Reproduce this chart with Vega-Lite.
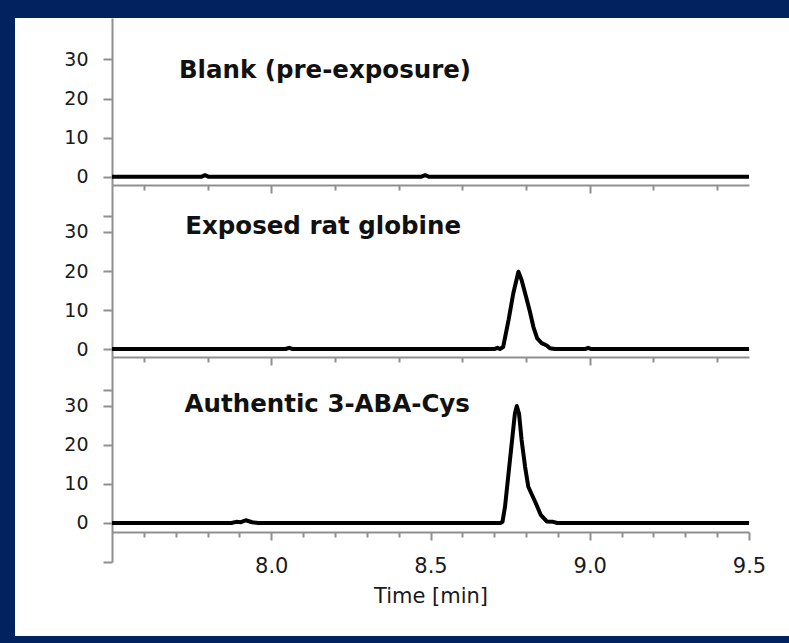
{
  "$schema": "https://vega.github.io/schema/vega-lite/v6.json",
  "padding": 0,
  "autosize": {"type": "pad"},
  "background": "white",
  "spacing": 0,
  "config": {"view": {"stroke": null}},
  "vconcat": [
    {"width": 789, "height": 18, "view": {"fill": "#02215f", "stroke": null}, "data": {"values": []}, "mark": "point"},
    {
      "spacing": 0,
      "hconcat": [
        {"width": 15, "height": 618, "view": {"fill": "#02215f", "stroke": null}, "data": {"values": []}, "mark": "point"},
        {
          "spacing": 0,
          "bounds": "flush",
          "vconcat": [
            {
              "width": 637,
              "height": 167,
              "layer": [
                {
                  "data": {"values": [
                    {"t": 7.5, "v": 0}, {"t": 7.78, "v": 0}, {"t": 7.792, "v": 0.4}, {"t": 7.804, "v": 0},
                    {"t": 8.47, "v": 0}, {"t": 8.483, "v": 0.4}, {"t": 8.496, "v": 0}, {"t": 9.5, "v": 0}
                  ]},
                  "mark": {"type": "line", "color": "#000", "strokeWidth": 4, "strokeJoin": "round"},
                  "encoding": {
                    "x": {"field": "t", "type": "quantitative", "scale": {"domain": [7.5, 9.5], "nice": false, "zero": false},
                      "axis": {"values": [7.6,7.7,7.8,7.9,8.0,8.1,8.2,8.3,8.4,8.5,8.6,8.7,8.8,8.9,9.0,9.1,9.2,9.3,9.4,9.5],
                        "title": null, "labels": false, "grid": false, "domainColor": "#8f8f8f", "domainWidth": 2,
                        "tickColor": "#8f8f8f", "tickWidth": 2,
                        "tickSize": {"condition": {"test": "abs(datum.value*2 - round(datum.value*2)) < 0.001", "value": 8}, "value": 5}}},
                    "y": {"field": "v", "type": "quantitative", "scale": {"domain": [-2.1, 40.6], "nice": false, "zero": false},
                      "axis": {"values": [0, 10, 20, 30], "title": null, "grid": false, "domainColor": "#8f8f8f", "domainWidth": 2,
                        "tickColor": "#8f8f8f", "tickWidth": 2, "tickSize": 9, "labelFont": "DejaVu Sans", "labelFontSize": 19,
                        "labelColor": "#1a1a1a", "labelPadding": 15, "labelFlush": false, "labelOverlap": false, "minExtent": 97, "maxExtent": 97}}
                  }
                },
                {
                  "data": {"values": [{"label": "Blank (pre-exposure)"}]},
                  "mark": {"type": "text", "align": "left", "baseline": "middle", "font": "DejaVu Sans", "fontWeight": "bold", "fontSize": 24.5, "color": "#111"},
                  "encoding": {"x": {"datum": 7.71}, "y": {"datum": 27}, "text": {"field": "label"}}
                }
              ]
            },
            {
              "width": 637,
              "height": 172,
              "layer": [
                {
                  "data": {"values": [
                    {"t": 7.5, "v": 0}, {"t": 8.045, "v": 0}, {"t": 8.056, "v": 0.3}, {"t": 8.067, "v": 0},
                    {"t": 8.70, "v": 0}, {"t": 8.71, "v": 0.3}, {"t": 8.718, "v": 0}, {"t": 8.728, "v": 0.5},
                    {"t": 8.745, "v": 7.4}, {"t": 8.76, "v": 14.3}, {"t": 8.776, "v": 19.8}, {"t": 8.786, "v": 17.7},
                    {"t": 8.80, "v": 13.4}, {"t": 8.812, "v": 9.6}, {"t": 8.823, "v": 5.7}, {"t": 8.835, "v": 2.7},
                    {"t": 8.849, "v": 1.5}, {"t": 8.865, "v": 0.9}, {"t": 8.875, "v": 0.2}, {"t": 8.89, "v": 0},
                    {"t": 8.985, "v": 0}, {"t": 8.995, "v": 0.3}, {"t": 9.005, "v": 0}, {"t": 9.5, "v": 0}
                  ]},
                  "mark": {"type": "line", "color": "#000", "strokeWidth": 4, "strokeJoin": "round"},
                  "encoding": {
                    "x": {"field": "t", "type": "quantitative", "scale": {"domain": [7.5, 9.5], "nice": false, "zero": false},
                      "axis": {"values": [7.6,7.7,7.8,7.9,8.0,8.1,8.2,8.3,8.4,8.5,8.6,8.7,8.8,8.9,9.0,9.1,9.2,9.3,9.4,9.5],
                        "title": null, "labels": false, "grid": false, "domainColor": "#8f8f8f", "domainWidth": 2,
                        "tickColor": "#8f8f8f", "tickWidth": 2,
                        "tickSize": {"condition": {"test": "abs(datum.value*2 - round(datum.value*2)) < 0.001", "value": 8}, "value": 5}}},
                    "y": {"field": "v", "type": "quantitative", "scale": {"domain": [-2.05, 42.05], "nice": false, "zero": false},
                      "axis": {"values": [0, 10, 20, 30, 34], "labelExpr": "datum.value <= 30 ? datum.label : ''", "title": null, "grid": false, "domainColor": "#8f8f8f", "domainWidth": 2,
                        "tickColor": "#8f8f8f", "tickWidth": 2, "tickSize": 9, "labelFont": "DejaVu Sans", "labelFontSize": 19,
                        "labelColor": "#1a1a1a", "labelPadding": 15, "labelFlush": false, "labelOverlap": false, "minExtent": 97, "maxExtent": 97}}
                  }
                },
                {
                  "data": {"values": [{"label": "Exposed rat globine"}]},
                  "mark": {"type": "text", "align": "left", "baseline": "middle", "font": "DejaVu Sans", "fontWeight": "bold", "fontSize": 24.5, "color": "#111"},
                  "encoding": {"x": {"datum": 7.73}, "y": {"datum": 31.3}, "text": {"field": "label"}}
                }
              ]
            },
            {
              "width": 637,
              "height": 205,
              "resolve": {"axis": {"x": "independent"}},
              "layer": [
                {
                  "data": {"values": [
                    {"t": 7.5, "v": 0}, {"t": 7.875, "v": 0}, {"t": 7.89, "v": 0.3}, {"t": 7.905, "v": 0.2},
                    {"t": 7.92, "v": 0.7}, {"t": 7.94, "v": 0.2}, {"t": 7.96, "v": 0}, {"t": 8.72, "v": 0},
                    {"t": 8.726, "v": 0.3}, {"t": 8.734, "v": 4.2}, {"t": 8.745, "v": 12.7}, {"t": 8.755, "v": 20.4},
                    {"t": 8.765, "v": 28.1}, {"t": 8.771, "v": 30}, {"t": 8.778, "v": 28}, {"t": 8.786, "v": 21.3},
                    {"t": 8.797, "v": 14.4}, {"t": 8.807, "v": 9.3}, {"t": 8.83, "v": 5.2}, {"t": 8.846, "v": 2.1},
                    {"t": 8.865, "v": 0.4}, {"t": 8.885, "v": 0.3}, {"t": 8.898, "v": 0}, {"t": 9.5, "v": 0}
                  ]},
                  "mark": {"type": "line", "color": "#000", "strokeWidth": 4, "strokeJoin": "round"},
                  "encoding": {
                    "x": {"field": "t", "type": "quantitative", "scale": {"domain": [7.5, 9.5], "nice": false, "zero": false},
                      "axis": {"orient": "bottom", "values": [7.6,7.7,7.8,7.9,8.1,8.2,8.3,8.4,8.6,8.7,8.8,8.9,9.1,9.2,9.3,9.4],
                        "offset": -30, "labels": false, "title": null,
                        "grid": false, "domainColor": "#8f8f8f", "domainWidth": 2,
                        "tickColor": "#8f8f8f", "tickWidth": 2, "tickSize": 5}},
                    "y": {"field": "v", "type": "quantitative", "scale": {"domain": [-10, 42.56], "nice": false, "zero": false},
                      "axis": {"values": [-10, 0, 10, 20, 30, 34], "labelExpr": "datum.value >= 0 && datum.value <= 30 ? datum.label : ''", "title": null, "grid": false, "domainColor": "#8f8f8f", "domainWidth": 2,
                        "tickColor": "#8f8f8f", "tickWidth": 2, "tickSize": 9, "labelFont": "DejaVu Sans", "labelFontSize": 19,
                        "labelColor": "#1a1a1a", "labelPadding": 15, "labelFlush": false, "labelOverlap": false, "minExtent": 97, "maxExtent": 97}}
                  }
                },
                {
                  "data": {"values": [{"label": "Authentic 3-ABA-Cys"}]},
                  "mark": {"type": "text", "align": "left", "baseline": "middle", "font": "DejaVu Sans", "fontWeight": "bold", "fontSize": 24.5, "color": "#111"},
                  "encoding": {
                    "x": {"datum": 7.728, "type": "quantitative",
                      "axis": {"orient": "bottom", "values": [8.0, 8.5, 9.0, 9.5], "format": ".1f", "offset": -30, "domain": false,
                        "labelFlush": false, "labelOverlap": false,
                        "labelFont": "DejaVu Sans", "labelFontSize": 21, "labelColor": "#1a1a1a", "labelPadding": 15,
                        "title": "Time [min]", "titleFont": "DejaVu Sans", "titleFontSize": 21, "titleFontWeight": "normal",
                        "titleColor": "#1a1a1a", "titlePadding": 9, "grid": false,
                        "tickColor": "#8f8f8f", "tickWidth": 2, "tickSize": 8}},
                    "y": {"datum": 30.3},
                    "text": {"field": "label"}}
                }
              ]
            }
          ]
        },
        {"width": 40, "height": 618, "view": {"fill": "white", "stroke": null}, "data": {"values": []}, "mark": "point"}
      ]
    },
    {"width": 789, "height": 7, "view": {"fill": "#02215f", "stroke": null}, "data": {"values": []}, "mark": "point"}
  ]
}
